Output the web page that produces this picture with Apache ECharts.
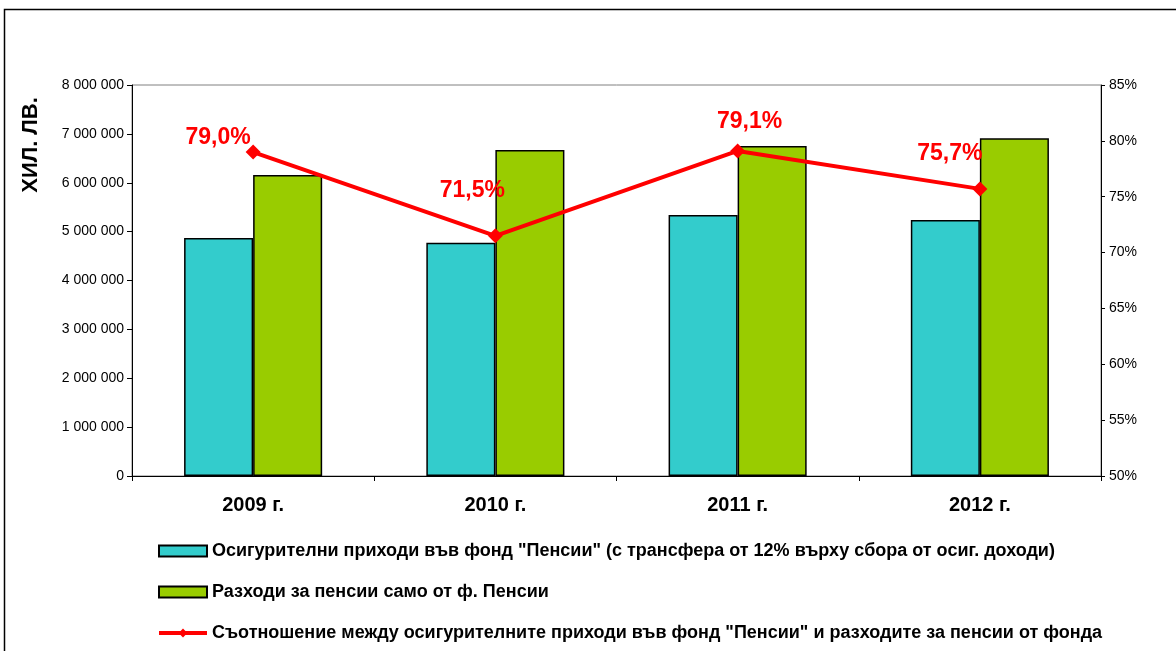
<!DOCTYPE html>
<html>
<head>
<meta charset="utf-8">
<script src="https://cdn.jsdelivr.net/npm/echarts@6/dist/echarts.min.js"></script>
<style>
  html, body { margin: 0; padding: 0; background: #fff; }
  #chart { width: 1176px; height: 651px; }
</style>
</head>
<body>
<div id="chart"></div>
<script>
// данни
const years = ['2009 г.', '2010 г.', '2011 г.', '2012 г.'];
const incomes = [4870000, 4770000, 5340000, 5240000]; // осигурителни приходи
const pensions = [6160000, 6670000, 6750000, 6910000]; // разходи за пенсии
const ratio = [79.0, 71.5, 79.1, 75.7]; // съотношение, %
const ratioLabels = ['79,0%', '71,5%', '79,1%', '75,7%'];

const seriesNames = [
  'Осигурителни приходи във фонд "Пенсии" (с трансфера от 12% върху сбора от осиг. доходи)',
  'Разходи за пенсии само от ф. Пенсии',
  'Съотношение между осигурителните приходи във фонд "Пенсии" и разходите за пенсии от фонда'
];

// отместване на надписите спрямо точката
const labelOffsets = [[-35, 10], [-23, -21], [12, -5], [-30, -11]];

const font = 'Liberation Sans, Arial, sans-serif';

const chart = echarts.init(document.getElementById('chart'));

const option = {
  animation: false,
  textStyle: { fontFamily: font },
  graphic: [
    {
      type: 'rect',
      shape: { x: 4.5, y: 9.5, width: 1200, height: 700 },
      style: { fill: 'none', stroke: '#000', lineWidth: 1.5 },
      z: 0
    },
    {
      type: 'text',
      x: 31,
      y: 145,
      rotation: Math.PI / 2,
      style: {
        text: 'ХИЛ. ЛВ.',
        font: 'bold 22px ' + font,
        fill: '#000',
        align: 'center',
        verticalAlign: 'middle'
      }
    }
  ],
  grid: {
    left: 132,
    right: 75,
    top: 85,
    height: 391,
    show: true,
    borderColor: '#808080',
    borderWidth: 1
  },
  legend: {
    orient: 'vertical',
    left: 152,
    top: 536,
    itemWidth: 48,
    itemHeight: 11,
    itemGap: 21,
    textStyle: {
      fontSize: 18,
      lineHeight: 20,
      fontWeight: 'bold',
      color: '#000',
      fontFamily: font
    },
    data: [
      { name: seriesNames[0], icon: 'rect' },
      { name: seriesNames[1], icon: 'rect' },
      { name: seriesNames[2], lineStyle: { width: 4 } }
    ]
  },
  xAxis: {
    type: 'category',
    data: years,
    axisLine: { lineStyle: { color: '#000', width: 1 } },
    axisTick: { show: true, length: 5, lineStyle: { color: '#000' } },
    axisLabel: { fontSize: 20, fontWeight: 'bold', color: '#000', margin: 19 },
    splitLine: { show: false }
  },
  yAxis: [
    {
      type: 'value',
      min: 0,
      max: 8000000,
      interval: 1000000,
      axisLine: { show: true, lineStyle: { color: '#000' } },
      axisTick: { show: true, length: 5, lineStyle: { color: '#000' } },
      axisLabel: {
        fontSize: 14,
        color: '#000',
        margin: 8,
        formatter: (v) => String(v).replace(/\B(?=(\d{3})+(?!\d))/g, ' ')
      },
      splitLine: { show: false }
    },
    {
      type: 'value',
      min: 50,
      max: 85,
      interval: 5,
      axisLine: { show: true, lineStyle: { color: '#000' } },
      axisTick: { show: true, length: 4, lineStyle: { color: '#000' } },
      axisLabel: { fontSize: 14, color: '#000', margin: 8, formatter: '{value}%' },
      splitLine: { show: false }
    }
  ],
  series: [
    {
      name: seriesNames[0],
      type: 'bar',
      data: incomes,
      barGap: '0%',
      barCategoryGap: '43%',
      itemStyle: { color: '#33CCCC', borderColor: '#000', borderWidth: 1.5 }
    },
    {
      name: seriesNames[1],
      type: 'bar',
      data: pensions,
      itemStyle: { color: '#99CC00', borderColor: '#000', borderWidth: 1.5 }
    },
    {
      name: seriesNames[2],
      type: 'line',
      yAxisIndex: 1,
      data: ratio.map((v, i) => ({
        value: v,
        label: { offset: labelOffsets[i] }
      })),
      symbol: 'diamond',
      symbolSize: 15,
      lineStyle: { color: '#FF0000', width: 4 },
      itemStyle: { color: '#FF0000' },
      label: {
        show: true,
        position: 'top',
        color: '#FF0000',
        fontSize: 23,
        fontWeight: 'bold',
        formatter: (p) => ratioLabels[p.dataIndex]
      },
      z: 5
    }
  ]
};

chart.setOption(option);
</script>
</body>
</html>
